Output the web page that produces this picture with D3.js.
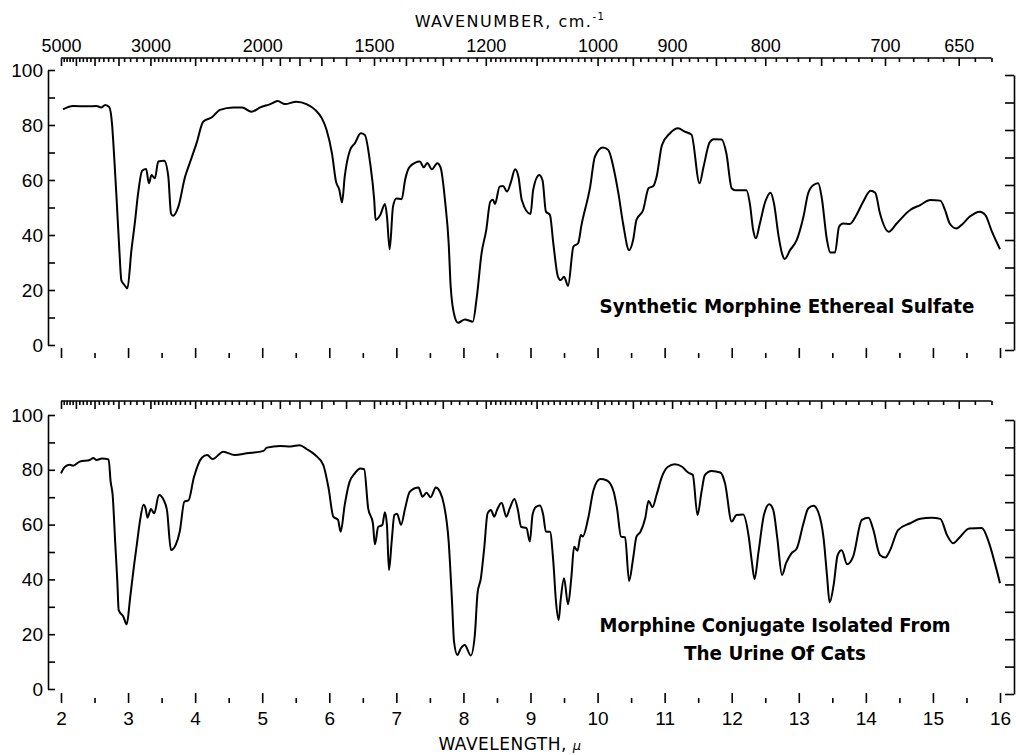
<!DOCTYPE html>
<html>
<head>
<meta charset="utf-8">
<script src="https://cdn.jsdelivr.net/npm/d3@7"></script>
<style>
body{margin:0;background:#fff;}
svg{display:block;font-family:"DejaVu Sans",sans-serif;}
</style>
</head>
<body>
<script>
// upper spectrum: wavelength (micron) / % transmittance
var wlTop=[2.03,2.18,2.40,2.53,2.60,2.66,2.72,2.76,2.79,2.83,2.87,2.90,2.94,2.99,3.05,3.10,3.15,3.21,3.27,3.31,3.35,3.40,3.45,3.54,3.60,3.64,3.67,3.75,3.85,3.91,4.02,4.12,4.25,4.37,4.57,4.70,4.84,4.97,5.12,5.23,5.34,5.51,5.66,5.79,5.89,5.96,6.04,6.10,6.15,6.19,6.23,6.31,6.38,6.47,6.53,6.61,6.67,6.69,6.76,6.83,6.86,6.90,6.95,7.00,7.08,7.13,7.20,7.35,7.41,7.46,7.53,7.61,7.66,7.73,7.78,7.81,7.87,7.92,8.02,8.14,8.20,8.27,8.34,8.40,8.44,8.47,8.54,8.59,8.65,8.71,8.77,8.82,8.87,9.00,9.04,9.13,9.18,9.23,9.29,9.34,9.41,9.45,9.50,9.56,9.64,9.71,9.76,9.89,9.96,10.08,10.16,10.24,10.31,10.38,10.47,10.53,10.58,10.68,10.76,10.83,10.88,10.96,11.08,11.20,11.30,11.40,11.52,11.58,11.67,11.73,11.85,11.92,12.00,12.05,12.22,12.27,12.32,12.36,12.42,12.50,12.58,12.63,12.70,12.75,12.79,12.87,12.97,13.07,13.14,13.22,13.29,13.34,13.42,13.47,13.54,13.60,13.66,13.76,13.86,13.96,14.07,14.14,14.21,14.34,14.46,14.66,14.81,14.96,15.11,15.18,15.25,15.35,15.45,15.55,15.70,15.78,15.88,16.00];
var tTop=[85.7,86.9,86.8,86.9,86.4,87.3,86.5,80.6,69.7,52.7,34.5,23.5,22,20.6,34.5,44.2,55.2,63.4,64.0,58.8,61.8,60.6,66.7,67.0,61.2,47.9,47.0,50.3,61.2,65.5,73.3,81.2,82.8,85.5,86.4,86.4,84.8,86.4,87.6,88.7,87.6,88.5,87.6,85.5,82.4,78.2,69.7,59.4,56.4,51.8,61.2,70.9,73.3,77.0,76.4,66,52.7,45.5,47.3,51.3,46.7,34.8,50.3,53.3,53,60,64.8,66.7,64.6,66.2,63.9,66.1,64.5,51.5,37,21.2,10.3,8.1,9.3,8.5,17.6,33.3,41.8,52.1,52.8,51.3,57.6,57.8,55.8,59.4,63.9,61.2,52.7,47.6,56.4,61.8,59.8,48.5,47.3,37,24.8,23.6,24.8,21.5,35.8,37,43.6,57.6,68.5,71.8,70.9,64.2,55.2,44.2,34.5,38.2,45.5,49.1,57,57.8,61.2,72.7,77,78.8,77.6,76.5,58.8,64.8,73.6,74.8,74.7,69.7,57,56.3,56.3,51.5,41.8,38.8,44.2,52.1,55.4,51.5,39.4,33.3,31.3,34.5,38.2,46.7,55.2,58.2,58.8,53.9,38.2,33.6,33.6,43,44.2,44,47.3,52.1,56.1,55.4,47.9,41.2,44.2,49.1,50.9,52.7,52.5,49.1,44.2,42.4,44.2,46.7,48.5,47.3,41.2,34.8];

// lower spectrum
var wlBottom=[2.00,2.06,2.13,2.18,2.28,2.43,2.48,2.53,2.61,2.71,2.74,2.77,2.81,2.84,2.86,2.93,2.98,3.03,3.09,3.13,3.18,3.23,3.26,3.29,3.34,3.39,3.46,3.53,3.58,3.64,3.71,3.77,3.84,3.90,3.98,4.10,4.18,4.26,4.42,4.59,4.77,5.02,5.07,5.27,5.42,5.56,5.66,5.79,5.91,5.99,6.06,6.13,6.17,6.23,6.30,6.38,6.46,6.52,6.58,6.65,6.68,6.73,6.79,6.83,6.86,6.89,6.93,6.97,7.01,7.07,7.13,7.20,7.33,7.39,7.45,7.51,7.59,7.65,7.71,7.78,7.83,7.86,7.91,7.96,8.02,8.11,8.17,8.21,8.26,8.31,8.36,8.41,8.46,8.50,8.57,8.64,8.69,8.76,8.81,8.86,8.94,8.99,9.03,9.08,9.14,9.19,9.23,9.29,9.34,9.38,9.42,9.45,9.50,9.56,9.61,9.65,9.70,9.75,9.78,9.86,9.94,10.04,10.14,10.24,10.29,10.35,10.41,10.47,10.53,10.58,10.64,10.71,10.76,10.82,10.88,10.96,11.05,11.15,11.26,11.35,11.42,11.49,11.55,11.60,11.70,11.83,11.90,12.00,12.07,12.17,12.25,12.30,12.34,12.40,12.48,12.56,12.62,12.68,12.75,12.81,12.89,12.97,13.07,13.14,13.22,13.29,13.37,13.42,13.46,13.52,13.58,13.64,13.72,13.81,13.94,14.04,14.11,14.21,14.29,14.36,14.48,14.66,14.81,14.98,15.11,15.21,15.30,15.40,15.54,15.73,15.83,15.93,16.00];
var tBottom=[78.7,81.1,81.8,81.5,83,83.6,84.3,83.6,84.1,83.8,75.7,70.8,52.6,39.2,28.8,26.4,23.6,33.1,45.3,52.6,61.7,67.2,66,62.5,65.7,64.1,70.8,69,65.3,50.7,52.6,57.4,68.4,68.8,77.1,84.4,85.4,83.9,86.6,85.4,86,86.9,88.1,88.7,88.5,89,87.6,85.4,81.8,73.2,62.9,61.7,57.4,67.2,75.4,78.7,80.5,80.2,65.9,60.5,52.8,59.2,59.8,64.5,59.6,43.4,53.8,63.5,64,59.9,65.9,72,73.5,70.2,71.6,70,73.5,72,67.2,53.8,31.9,17.3,12.4,14.8,16.1,12.2,19.7,34.9,40.4,51.4,64.1,65.3,62.9,65.3,68,62.9,65.9,69.3,65.6,59.2,58.7,53.8,63.5,66.4,67,63.5,57.4,57.4,46.5,31.9,25.2,32.5,40.4,30.9,41,51.9,50.5,56.2,55.7,62.3,72.6,76.6,76.1,72,65.9,55.6,55.4,39.4,47.7,55.6,57.4,62.3,68.6,66.4,70.9,77.5,81.1,82,81.1,79,78.1,63.5,72,78.1,79.6,79,75.1,61.1,63.5,63.7,56.2,46.5,40.1,50.1,63.5,67.4,65.3,55,41.6,45.9,49.5,51.3,60.5,65.9,66.9,64.6,55,41.6,31.6,38,48.9,50.6,45.5,48.3,61.7,62.5,58.2,48.9,48,50.6,58,60.5,62.1,62.5,62.1,56.2,53.2,55.4,58.6,58.8,53.8,45.3,38.6];

// axis ticks
var wlMajor=[2,3,4,5,6,7,8,9,10,11,12,13,14,15,16];
var wlMinor=[2.5,3.5,4.5,5.5,6.5,7.5,8.5,9.5,10.5,11.5,12.5,13.5,14.5,15.5];
var yTicks=[0,10,20,30,40,50,60,70,80,90,100];
var yLabels=[0,20,40,60,80,100];
var wnLabels=[5000,3000,2000,1500,1200,1000,900,800,700,650];
var wnLong=[5000,4500,4000,3500,3000,2500,2000,1900,1800,1700,1600,1500,1400,1300,1200,1100,1000,950,900,850,800,750,700,650];
var wnShort=[].concat(d3.range(5000,3000,-100),d3.range(3000,2000,-50),d3.range(2000,1500,-50),
  d3.range(1500,1200,-20),d3.range(1200,625,-10)).filter(n=>wnLong.indexOf(n)<0);

var titleTop=['Synthetic Morphine Ethereal Sulfate'];
var titleBottom=['Morphine Conjugate Isolated From','The Urine Of Cats'];

var width=1016,height=755;
var svg=d3.select('body').append('svg')
.attr('width',width)
.attr('height',height);

var x=d3.scaleLinear().domain([2,16]).range([61,1000]);

var panels=[
  {wl:wlTop,t:tTop,y0:345,y1:70,axisY:358,topY:58,labels:false,title:titleTop,tx:787,ty:313,tlen:[375]},
  {wl:wlBottom,t:tBottom,y0:689,y1:415,axisY:703,topY:401,labels:true,title:titleBottom,tx:775,ty:632,tlen:[351,182]}
];

function styleAxis(sel,size){
  sel.selectAll('path,line').attr('stroke','#000').attr('stroke-width',1.6);
  sel.selectAll('text').attr('fill','#000').style('font-size',size+'px');
}

panels.forEach(function(p,pi){
  var y=d3.scaleLinear().domain([0,100]).range([p.y0,p.y1]);
  var g=svg.append('g');

  var left=g.append('g').attr('transform','translate(48,0)')
  .call(d3.axisLeft(y).tickValues(yTicks).tickSizeInner(-7).tickSizeOuter(0).tickPadding(5)
    .tickFormat(d=>yLabels.indexOf(d)>=0?d:''));
  styleAxis(left,19);

  var right=g.append('g').attr('transform','translate(1014,5)')
  .call(d3.axisRight(y).tickValues(yTicks).tickSizeInner(-9).tickSizeOuter(0).tickFormat(''));
  styleAxis(right,10);

  var bottom=g.append('g').attr('transform','translate(0,'+p.axisY+')')
  .call(d3.axisBottom(x).tickValues(wlMajor).tickSizeInner(-10).tickSizeOuter(0).tickPadding(9)
    .tickFormat(d=>p.labels?d:''));
  bottom.append('g')
  .call(d3.axisBottom(x).tickValues(wlMinor).tickSizeInner(-5).tickSizeOuter(0).tickFormat(''));
  bottom.selectAll('g > g > .domain').remove();
  styleAxis(bottom,19);

  // wavenumber scale along the top
  var top=g.append('g').attr('transform','translate(0,'+p.topY+')');
  top.append('g')
  .call(d3.axisTop(x).tickValues(wnLong.map(n=>10000/n)).tickSizeInner(-8).tickSizeOuter(0).tickPadding(6)
    .tickFormat(function(d){
      var n=Math.round(10000/d);
      return (pi==0 && wnLabels.indexOf(n)>=0)?n:'';
    }));
  top.append('g')
  .call(d3.axisTop(x).tickValues(wnShort.map(n=>10000/n)).tickSizeInner(-4).tickSizeOuter(0).tickFormat(''));
  top.selectAll('.domain').remove();
  top.append('line')
  .attr('x1',x(2)).attr('x2',x(10000/630))
  .attr('y1',0).attr('y2',0);
  styleAxis(top,18);

  var line=d3.line()
  .x(d=>x(d[0]))
  .y(d=>y(d[1]))
  .curve(d3.curveMonotoneX);

  g.append('path')
  .datum(d3.zip(p.wl,p.t))
  .attr('d',line)
  .attr('fill','none')
  .attr('stroke','#000')
  .attr('stroke-width',2)
  .attr('stroke-linejoin','round');

  p.title.forEach(function(s,i){
    g.append('text')
    .attr('x',p.tx)
    .attr('y',p.ty+i*28)
    .attr('text-anchor','middle')
    .attr('textLength',p.tlen[i])
    .attr('lengthAdjust','spacingAndGlyphs')
    .style('font-size','19px')
    .style('font-weight','bold')
    .text(s);
  });
});

var wn=svg.append('text')
.attr('x',510)
.attr('y',27)
.attr('text-anchor','middle')
.style('font-size','16px')
.style('letter-spacing','1.5px')
.text('WAVENUMBER, cm.');
wn.append('tspan')
.attr('dy',-7)
.style('font-size','10px')
.text('-1');

var wl=svg.append('text')
.attr('x',510)
.attr('y',750)
.attr('text-anchor','middle')
.style('font-size','17px')
.style('letter-spacing','0.5px')
.text('WAVELENGTH, ');
wl.append('tspan')
.style('font-style','italic')
.style('font-size','13px')
.text('\u03bc');
</script>
</body>
</html>
